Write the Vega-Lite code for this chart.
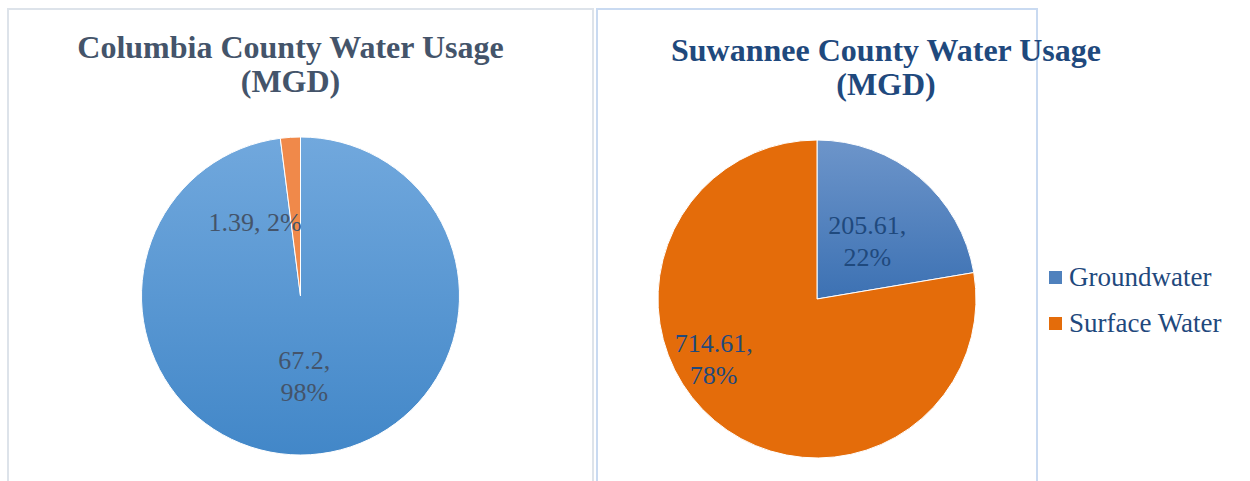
{
  "$schema": "https://vega.github.io/schema/vega-lite/v6.json",
  "background": "white",
  "padding": {"left": 7, "top": 8, "right": 0, "bottom": 0},
  "spacing": 2,
  "config": {
    "font": "Times New Roman, Liberation Serif, serif",
    "title": {"font": "Times New Roman, Liberation Serif, serif", "fontSize": 32, "fontWeight": "bold", "lineHeight": 34, "anchor": "middle", "baseline": "top"}
  },
  "datasets": {
    "columbia": [
      {"source": "Groundwater", "mgd": 67.2, "label": "67.2,\n98%"},
      {"source": "Surface Water", "mgd": 1.39, "label": "1.39, 2%"}
    ],
    "suwannee": [
      {"source": "Groundwater", "mgd": 205.61, "label": "205.61,\n22%"},
      {"source": "Surface Water", "mgd": 714.61, "label": "714.61,\n78%"}
    ]
  },
  "resolve": {"scale": {"color": "independent"}, "legend": {"color": "independent"}},
  "hconcat": [
    {
      "width": 585,
      "height": 574,
      "view": {"stroke": "#dde3ea", "strokeWidth": 2},
      "title": {"text": ["Columbia County Water Usage", "(MGD)"], "color": "#44546a", "dx": -10, "offset": -90},
      "data": {"name": "columbia"},
      "encoding": {"theta": {"field": "mgd", "type": "quantitative", "stack": true}},
      "layer": [
        {
          "mark": {"type": "arc", "outerRadius": 159, "stroke": "white", "strokeWidth": 1},
          "encoding": {
            "color": {
              "condition": {
                "test": "datum.source === 'Groundwater'",
                "value": {"gradient": "linear", "x1": 0, "y1": 0, "x2": 0, "y2": 1, "stops": [{"offset": 0, "color": "#71a8dd"}, {"offset": 1, "color": "#4287c8"}]}
              },
              "value": "#f0894a"
            }
          }
        },
        {
          "mark": {"type": "text", "radius": 81, "dx": 9, "dy": -16, "lineBreak": "\n", "fontSize": 26, "lineHeight": 32, "color": "#44546a", "font": "Times New Roman, Liberation Serif, serif"},
          "encoding": {"text": {"condition": {"test": "datum.source === 'Groundwater'", "field": "label", "type": "nominal"}, "value": ""}}
        },
        {
          "mark": {"type": "text", "radius": 86, "dx": -51, "dy": 13, "lineBreak": "\n", "fontSize": 26, "lineHeight": 32, "color": "#44546a", "font": "Times New Roman, Liberation Serif, serif"},
          "encoding": {"text": {"condition": {"test": "datum.source === 'Surface Water'", "field": "label", "type": "nominal"}, "value": ""}}
        }
      ]
    },
    {
      "width": 440,
      "height": 580,
      "view": {"stroke": "#c9daf1", "strokeWidth": 2},
      "title": {"text": ["Suwannee County Water Usage", "(MGD)"], "color": "#1f497d", "dx": 69, "offset": -93},
      "data": {"name": "suwannee"},
      "encoding": {"theta": {"field": "mgd", "type": "quantitative", "stack": true}},
      "layer": [
        {
          "mark": {"type": "arc", "outerRadius": 159, "stroke": "white", "strokeWidth": 1},
          "encoding": {
            "color": {
              "field": "source",
              "type": "nominal",
              "scale": {"domain": ["Groundwater", "Surface Water"], "range": ["#4f81bd", "#e46c0a"]},
              "legend": {
                "orient": "none",
                "legendX": 445,
                "legendY": 255,
                "title": null,
                "padding": 0,
                "symbolType": "square",
                "symbolSize": 169,
                "symbolStrokeWidth": 0,
                "labelFont": "Times New Roman, Liberation Serif, serif",
                "labelFontSize": 27,
                "labelColor": "#1f497d",
                "labelOffset": 0,
                "labelLimit": 300,
                "rowPadding": 18
              }
            }
          }
        },
        {
          "mark": {"type": "arc", "outerRadius": 159, "stroke": "white", "strokeWidth": 1},
          "encoding": {
            "color": {
              "condition": {
                "test": "datum.source === 'Groundwater'",
                "value": {"gradient": "linear", "x1": 0, "y1": 0, "x2": 0, "y2": 1, "stops": [{"offset": 0, "color": "#6d95ca"}, {"offset": 1, "color": "#3c71b3"}]}
              },
              "value": "#e46c0a"
            }
          }
        },
        {
          "mark": {"type": "text", "radius": 78, "dy": -13, "lineBreak": "\n", "fontSize": 26, "lineHeight": 32, "color": "#1f497d", "font": "Times New Roman, Liberation Serif, serif"},
          "encoding": {"text": {"condition": {"test": "datum.source === 'Groundwater'", "field": "label", "type": "nominal"}, "value": ""}}
        },
        {
          "mark": {"type": "text", "radius": 78, "dx": -53, "dy": -15, "lineBreak": "\n", "fontSize": 26, "lineHeight": 32, "color": "#1f497d", "font": "Times New Roman, Liberation Serif, serif"},
          "encoding": {"text": {"condition": {"test": "datum.source === 'Surface Water'", "field": "label", "type": "nominal"}, "value": ""}}
        }
      ]
    }
  ]
}
